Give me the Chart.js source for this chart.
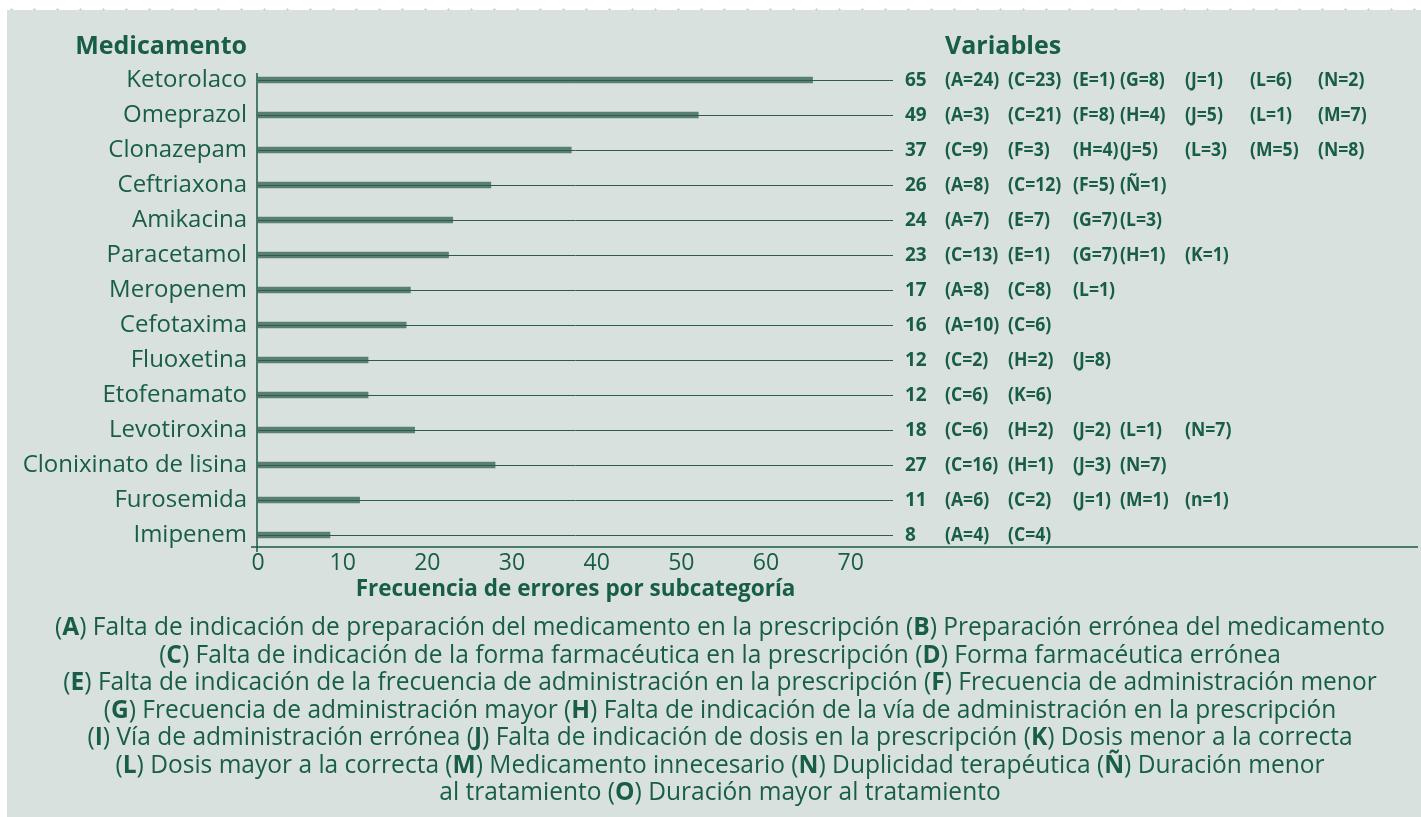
<!DOCTYPE html>
<html>
<head>
<meta charset="utf-8">
<script src="https://cdn.jsdelivr.net/npm/chart.js@4.4.0/dist/chart.umd.min.js"></script>
<style>
html, body { margin: 0; padding: 0; }
body {
    width: 1421px; height: 817px; overflow: hidden; position: relative;
    background: #fff radial-gradient(circle, #c8cfcc 0.9px, transparent 1.4px);
    background-size: 23px 19px;
}
#panel { position: absolute; left: 7px; top: 10px; width: 1414px; height: 807px; background: #d9e1de; }
canvas { display: block; }
</style>
</head>
<body>
<div id="panel"><canvas id="plots" width="1414" height="807"></canvas></div>
<script>
// datos del grafico
var medicamentos = ["Ketorolaco", "Omeprazol", "Clonazepam", "Ceftriaxona", "Amikacina", "Paracetamol",
    "Meropenem", "Cefotaxima", "Fluoxetina", "Etofenamato", "Levotiroxina", "Clonixinato de lisina",
    "Furosemida", "Imipenem"];
// largo de barra
var barras = [65.5, 52, 37, 27.5, 23, 22.5, 18, 17.5, 13, 13, 18.5, 28, 12, 8.5];
// totales impresos a la derecha
var totales = [65, 49, 37, 26, 24, 23, 17, 16, 12, 12, 18, 27, 11, 8];
var variables = [
    ["A=24", "C=23", "E=1", "G=8", "J=1", "L=6", "N=2"],
    ["A=3", "C=21", "F=8", "H=4", "J=5", "L=1", "M=7"],
    ["C=9", "F=3", "H=4", "J=5", "L=3", "M=5", "N=8"],
    ["A=8", "C=12", "F=5", "Ñ=1"],
    ["A=7", "E=7", "G=7", "L=3"],
    ["C=13", "E=1", "G=7", "H=1", "K=1"],
    ["A=8", "C=8", "L=1"],
    ["A=10", "C=6"],
    ["C=2", "H=2", "J=8"],
    ["C=6", "K=6"],
    ["C=6", "H=2", "J=2", "L=1", "N=7"],
    ["C=16", "H=1", "J=3", "N=7"],
    ["A=6", "C=2", "J=1", "M=1", "n=1"],
    ["A=4", "C=4"]
];
var ticksX = [0, 10, 20, 30, 40, 50, 60, 70];
var notas = [
    "(A) Falta de indicación de preparación del medicamento en la prescripción (B) Preparación errónea del medicamento",
    "(C) Falta de indicación de la forma farmacéutica en la prescripción (D) Forma farmacéutica errónea",
    "(E) Falta de indicación de la frecuencia de administración en la prescripción (F) Frecuencia de administración menor",
    "(G) Frecuencia de administración mayor (H) Falta de indicación de la vía de administración en la prescripción",
    "(I) Vía de administración errónea (J) Falta de indicación de dosis en la prescripción (K) Dosis menor a la correcta",
    "(L) Dosis mayor a la correcta (M) Medicamento innecesario (N) Duplicidad terapéutica (Ñ) Duración menor",
    "al tratamiento (O) Duración mayor al tratamiento"
];

var verde = "#175d48";
var fuente = "'Open Sans', 'Noto Sans', sans-serif";

// columnas de las variables (desde el borde derecho del area)
var cols = [52, 115, 180, 227, 292, 357, 425];

function textoEscalado(ctx, txt, x, y, sx, align) {
    var w = ctx.measureText(txt).width * sx;
    var x0 = align === "right" ? x - w : (align === "center" ? x - w / 2 : x);
    ctx.save();
    ctx.translate(x0, y);
    ctx.scale(sx, 1);
    ctx.textAlign = "left";
    ctx.fillText(txt, 0, 0);
    ctx.restore();
}

function partesNota(linea) {
    var segs = [];
    linea.split(/(\([A-ZÑ]\))/).forEach(function (p) {
        if (!p) return;
        var m = p.match(/^\(([A-ZÑ])\)$/);
        if (m) {
            segs.push(["(", false]);
            segs.push([m[1], true]);
            segs.push([")", false]);
        } else {
            segs.push([p, false]);
        }
    });
    return segs;
}

var extras = {
    id: "extras",
    afterDatasetsDraw: function (chart) {
        var ctx = chart.ctx, a = chart.chartArea;
        var xs = chart.scales.x, ys = chart.scales.y;
        ctx.save();
        // lineas guia
        ctx.strokeStyle = "#2e5c4a";
        ctx.lineWidth = 1;
        medicamentos.forEach(function (m, i) {
            var y = Math.round(ys.getPixelForValue(i)) + 0.5;
            ctx.beginPath();
            ctx.moveTo(xs.getPixelForValue(0), y);
            ctx.lineTo(a.right, y);
            ctx.stroke();
        });
        // ejes
        ctx.strokeStyle = "#1b5a46";
        ctx.lineWidth = 1.5;
        ctx.beginPath();
        ctx.moveTo(a.left - 1, a.top - 7);
        ctx.lineTo(a.left - 1, a.bottom + 17);
        ctx.moveTo(a.left - 7, a.bottom + 12);
        ctx.lineTo(chart.width - 3, a.bottom + 12);
        ctx.stroke();

        ctx.fillStyle = verde;
        ctx.textBaseline = "middle";
        // titulos
        ctx.font = "bold 25px " + fuente;
        textoEscalado(ctx, "Medicamento", a.left - 11, 37, 1, "right");
        textoEscalado(ctx, "Variables", a.right + 52, 37, 1, "left");
        // totales y variables
        medicamentos.forEach(function (m, i) {
            var y = ys.getPixelForValue(i);
            ctx.font = "bold 20px " + fuente;
            textoEscalado(ctx, String(totales[i]), a.right + 12, y, 0.95, "left");
            variables[i].forEach(function (v, j) {
                textoEscalado(ctx, "(" + v + ")", a.right + cols[j], y, 0.88, "left");
            });
        });
        // notas
        var reg = "25px " + fuente, neg = "bold 25px " + fuente;
        var ancho = function (segs) {
            var w = 0;
            segs.forEach(function (s) { ctx.font = s[1] ? neg : reg; w += ctx.measureText(s[0]).width; });
            return w;
        };
        var sx = 1330 / ancho(partesNota(notas[0]));
        notas.forEach(function (linea, k) {
            var segs = partesNota(linea);
            var w = ancho(segs) * sx;
            var cy = 618 + k * 27.5;
            ctx.save();
            ctx.translate(713 - w / 2, cy);
            ctx.scale(sx, 1);
            var x = 0;
            segs.forEach(function (s) {
                ctx.font = s[1] ? neg : reg;
                ctx.textAlign = "left";
                ctx.fillText(s[0], x, 0);
                x += ctx.measureText(s[0]).width;
            });
            ctx.restore();
        });
        ctx.restore();
    }
};

new Chart(document.getElementById("plots"), {
    type: "bar",
    data: {
        labels: medicamentos,
        datasets: [{
            data: barras,
            backgroundColor: "#587f6f",
            barThickness: 6,
            borderWidth: 0,
            clip: false
        }]
    },
    options: {
        indexAxis: "y",
        responsive: false,
        animation: false,
        layout: { padding: { top: 70, right: 528, bottom: 214, left: 0 } },
        plugins: { legend: { display: false }, tooltip: { enabled: false } },
        scales: {
            x: {
                type: "linear",
                min: 0,
                max: 75,
                grid: { display: false, drawTicks: false },
                border: { display: false },
                afterBuildTicks: function (s) { s.ticks = ticksX.map(function (v) { return { value: v }; }); },
                ticks: { color: verde, font: { family: fuente, size: 23 }, padding: 15, maxRotation: 0, autoSkip: false },
                title: {
                    display: true,
                    text: "Frecuencia de errores por subcategoría",
                    color: verde,
                    font: { family: fuente, size: 22.5, weight: "bold" },
                    padding: { top: 0, bottom: 0 }
                },
                afterFit: function (s) { s.height = 68; }
            },
            y: {
                type: "category",
                offset: false,
                grid: { display: false, drawTicks: false },
                border: { display: false },
                ticks: { color: verde, font: { family: fuente, size: 24 }, padding: 11, autoSkip: false },
                afterFit: function (s) { s.width = 251; }
            }
        }
    },
    plugins: [extras]
});
</script>
</body>
</html>
